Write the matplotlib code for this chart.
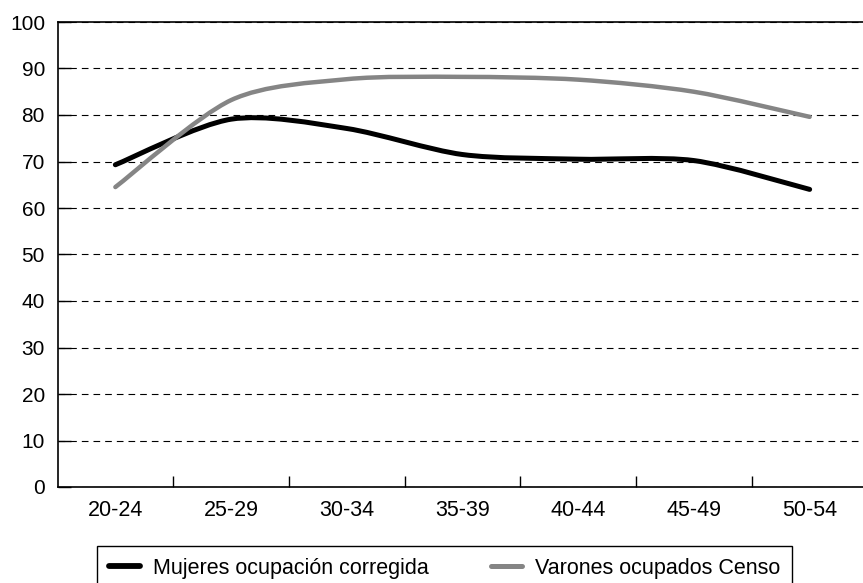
import matplotlib
matplotlib.use("Agg")
import matplotlib.pyplot as plt
import numpy as np
from matplotlib.path import Path
from matplotlib.patches import PathPatch
from matplotlib.lines import Line2D

plt.rcParams['font.family'] = ['Liberation Sans', 'DejaVu Sans']

# datos
grupos = ['20-24', '25-29', '30-34', '35-39', '40-44', '45-49', '50-54']
mujeres = [69.3, 79.1, 77.1, 71.5, 70.5, 70.2, 64.0]
varones = [64.5, 83.2, 87.7, 88.2, 87.6, 85.0, 79.6]
etiquetas = ['Mujeres ocupación corregida', 'Varones ocupados Censo']
colores = ['#000000', '#858585']
y_ticks = [0, 10, 20, 30, 40, 50, 60, 70, 80, 90, 100]


def linea_suave(xs, ys, k=7.0):
    # curva suavizada (Bezier cubica) entre los puntos de datos
    pts = np.column_stack([xs, ys]).astype(float)
    n = len(pts)
    verts = [pts[0]]
    codes = [Path.MOVETO]
    for i in range(n - 1):
        p_prev = pts[max(i - 1, 0)]
        p0 = pts[i]
        p1 = pts[i + 1]
        p_next = pts[min(i + 2, n - 1)]
        c1 = p0 + (p1 - p_prev) / k
        c2 = p1 - (p_next - p0) / k
        verts += [c1, c2, p1]
        codes += [Path.CURVE4] * 3
    return Path(verts, codes)


fig = plt.figure(figsize=(8.63, 5.83), dpi=100)
ax = fig.add_axes([57.5 / 863, 1 - 487 / 583, 810 / 863, 465 / 583])

x = np.arange(len(grupos))
for serie, col, lw in [(mujeres, colores[0], 3.6), (varones, colores[1], 3.2)]:
    patch = PathPatch(linea_suave(x, serie), facecolor='none', edgecolor=col,
                      lw=lw, capstyle='round', joinstyle='round', zorder=3)
    ax.add_patch(patch)

ax.set_xlim(-0.5, len(grupos) - 0.5)
ax.set_ylim(0, 100)
ax.set_yticks(y_ticks)
ax.yaxis.grid(True, color='black', lw=0.8, linestyle=(0, (6, 4.5)))
ax.set_axisbelow(True)

ax.set_xticks(np.arange(0.5, len(grupos) - 1))
ax.set_xticklabels([])
ax.set_xticks(x, minor=True)
ax.set_xticklabels(grupos, minor=True)
ax.tick_params(axis='x', which='major', direction='in', length=8, width=1)
ax.tick_params(axis='x', which='minor', length=0, pad=9, labelsize=15.5)
ax.tick_params(axis='y', direction='in', length=9, width=1, pad=9, labelsize=15)

for s in ['left', 'bottom', 'top']:
    ax.spines[s].set_linewidth(1.2)
ax.spines['right'].set_visible(False)

handles = [Line2D([], [], color=colores[0], lw=4.2, solid_capstyle='round'),
           Line2D([], [], color=colores[1], lw=3.6, solid_capstyle='round')]
leg = fig.legend(handles, etiquetas, loc='upper left', ncol=2,
                 bbox_to_anchor=(97 / 863, 1 - 546 / 583), bbox_transform=fig.transFigure,
                 borderaxespad=0, fontsize=15.5, frameon=True, fancybox=False,
                 edgecolor='black', framealpha=1, handlelength=1.45,
                 handletextpad=0.6, columnspacing=2.9, borderpad=0.55)
leg.get_frame().set_linewidth(1.0)

fig.savefig('out.png', dpi=100)
plt.close(fig)
